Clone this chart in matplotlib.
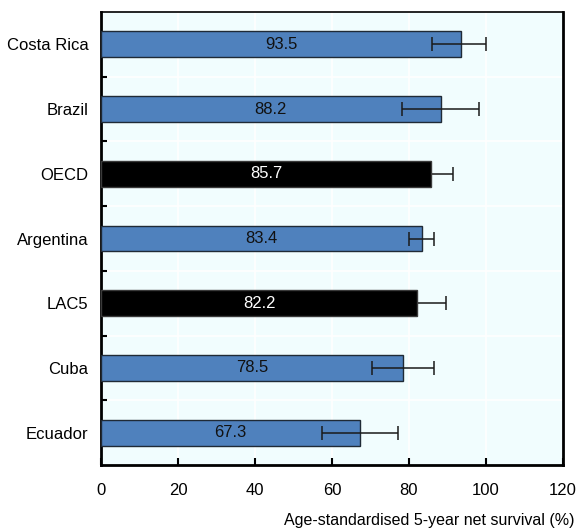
import matplotlib
matplotlib.use("Agg")
import matplotlib.pyplot as plt
from matplotlib import font_manager
import numpy as np

countries = ["Costa Rica", "Brazil", "OECD", "Argentina", "LAC5", "Cuba", "Ecuador"]
survival = [93.5, 88.2, 85.7, 83.4, 82.2, 78.5, 67.3]
ci_low = [86.1, 78.2, 80.0, 80.0, 74.7, 70.4, 57.5]
ci_high = [100.0, 98.2, 91.4, 86.6, 89.7, 86.6, 77.2]
aggregates = ["OECD", "LAC5"]

names = {f.name for f in font_manager.fontManager.ttflist}
family = "Liberation Sans Narrow" if "Liberation Sans Narrow" in names else "Liberation Sans"
plt.rcParams["font.family"] = [family, "DejaVu Sans"]

fig = plt.figure(figsize=(5.81, 5.31), dpi=100)
ax = fig.add_axes([101 / 581, 1 - 465 / 531, 462 / 581, 453 / 531])
ax.set_facecolor("#F1FDFE")

y = np.arange(len(countries))
is_agg = np.array([c in aggregates for c in countries])
vals = np.array(survival)
lo = vals - np.array(ci_low)
hi = np.array(ci_high) - vals
colors = ["#000000" if a else "#4F81BD" for a in is_agg]
edges = ["#3a3a3a" if a else "#1f2a36" for a in is_agg]

ax.barh(y, survival, height=0.4, color=colors, edgecolor=edges, linewidth=1.0, zorder=3)
# country bars show the whole interval; aggregate intervals sit behind the black bar
for mask, z in [(~is_agg, 4), (is_agg, 2)]:
    ax.errorbar(vals[mask], y[mask], xerr=[lo[mask], hi[mask]], fmt="none",
                ecolor="#1a1a1a", elinewidth=1.1, capsize=5, capthick=1.1, zorder=z)

for yi, v, a in zip(y, survival, is_agg):
    ax.text(v / 2, yi, f"{v:.1f}", ha="center", va="center", fontsize=12,
            color="white" if a else "#111111", zorder=5)

ax.set_xlim(0, 120)
ax.set_ylim(len(countries) - 0.5, -0.5)
ax.set_xticks(np.arange(0, 121, 20))
ax.set_yticks(y)
ax.set_yticklabels(countries, fontsize=12)
ax.set_yticks(np.arange(0.5, len(countries) - 0.5, 1), minor=True)
ax.tick_params(axis="y", which="major", length=0, pad=9)
ax.tick_params(axis="y", which="minor", direction="in", length=4, width=1.5)
ax.tick_params(axis="x", direction="in", length=5, width=1.5, labelsize=12, pad=13, top=False)

for xv in range(20, 120, 20):
    ax.axvline(xv, color="white", linewidth=1.2, zorder=1)
for yv in np.arange(0.5, len(countries) - 0.5, 1):
    ax.axhline(yv, color="white", linewidth=1.2, zorder=1)

for side in ["left", "bottom", "right"]:
    ax.spines[side].set_linewidth(2)
ax.spines["top"].set_linewidth(1.2)

fig.text(574 / 581, 1 - 521 / 531, "Age-standardised 5-year net survival (%)",
         ha="right", va="center", fontsize=11.5)

fig.savefig("out.png", dpi=100)
